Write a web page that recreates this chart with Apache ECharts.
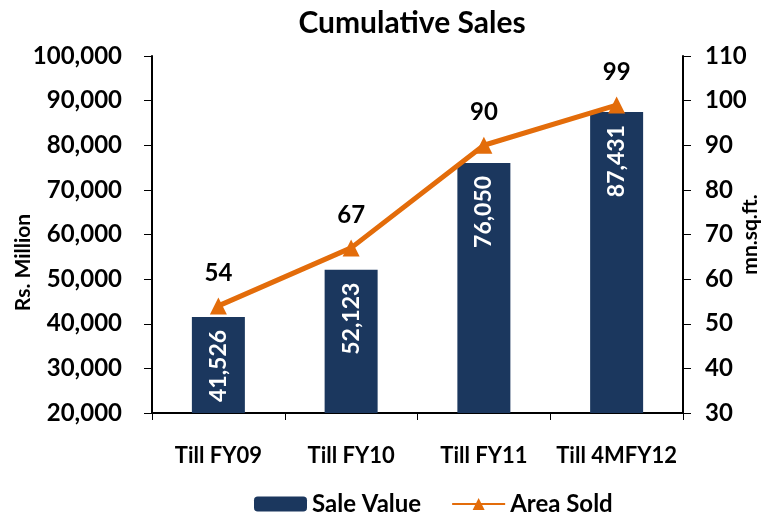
<!DOCTYPE html>
<html lang="en" style="height: 100%">
<head>
  <meta charset="utf-8">
  <title>Cumulative Sales</title>
</head>
<body style="height: 100%; margin: 0">
  <div id="container" style="width: 778px;height: 515px"></div>

  <script type="text/javascript" src="https://cdn.jsdelivr.net/npm/echarts@6/dist/echarts.min.js"></script>
  <script type="text/javascript">
    const categories = ['Till FY09', 'Till FY10', 'Till FY11', 'Till 4MFY12'];
    const saleValue = [41526, 52123, 76050, 87431];
    const areaSold = [54, 67, 90, 99];

    var dom = document.getElementById('container');
    var myChart = echarts.init(dom, null, { renderer: 'canvas' });

    var font = 'Lato';
    var option = {
      animation: false,
      textStyle: { fontFamily: font, fontWeight: 'bold', color: '#000' },
      title: {
        text: 'Cumulative Sales',
        left: 407,
        textAlign: 'center',
        top: 3,
        textStyle: { fontFamily: font, fontSize: 30, fontWeight: 'bold', color: '#000' }
      },
      legend: {
        top: 487,
        left: 249,
        itemWidth: 53,
        itemHeight: 15,
        itemGap: 30,
        textStyle: { fontFamily: font, fontSize: 24, fontWeight: 'bold', color: '#000' },
        data: ['Sale Value', 'Area Sold']
      },
      grid: { left: 152, right: 95, top: 56, bottom: 102, outerBoundsMode: 'none' },
      xAxis: {
        type: 'category',
        data: categories,
        axisLine: { lineStyle: { color: '#000', width: 2 } },
        axisTick: { show: true, length: 7, lineStyle: { color: '#000' } },
        axisLabel: { interval: 0, margin: 32, fontSize: 22, fontWeight: 'bold', color: '#000', fontFamily: font }
      },
      yAxis: [
        {
          type: 'value',
          name: 'Rs. Million',
          nameLocation: 'middle',
          nameGap: 118,
          nameMoveOverlap: false,
          nameTextStyle: { fontSize: 21, fontWeight: 'bold', color: '#000', fontFamily: font, padding: [0, 56, 0, 0] },
          min: 20000,
          max: 100000,
          interval: 10000,
          axisLine: { show: true, lineStyle: { color: '#000', width: 2 } },
          axisTick: { show: true, length: 8, lineStyle: { color: '#000' } },
          splitLine: { show: false },
          axisLabel: {
            margin: 30, fontSize: 24, fontWeight: 'bold', color: '#000', fontFamily: font,
            formatter: function (v) { return v.toLocaleString('en-US'); }
          }
        },
        {
          type: 'value',
          name: 'mn.sq.ft.',
          nameLocation: 'middle',
          nameGap: 57,
          nameRotate: 90,
          nameMoveOverlap: false,
          nameTextStyle: { fontSize: 21, fontWeight: 'bold', color: '#000', fontFamily: font },
          min: 30,
          max: 110,
          interval: 10,
          axisLine: { show: true, lineStyle: { color: '#000', width: 2 } },
          axisTick: { show: true, length: 8, lineStyle: { color: '#000' } },
          splitLine: { show: false },
          axisLabel: { margin: 22, fontSize: 24, fontWeight: 'bold', color: '#000', fontFamily: font }
        }
      ],
      series: [
        {
          name: 'Sale Value',
          type: 'bar',
          data: saleValue,
          barWidth: 53,
          itemStyle: { color: '#1B375E' },
          label: {
            show: true,
            position: 'insideTop',
            rotate: 90,
            align: 'right',
            verticalAlign: 'middle',
            distance: 13,
            fontSize: 23,
            fontWeight: 'bold',
            color: '#fff',
            fontFamily: font,
            formatter: function (p) { return p.value.toLocaleString('en-US'); }
          }
        },
        {
          name: 'Area Sold',
          type: 'line',
          yAxisIndex: 1,
          data: areaSold,
          symbol: 'triangle',
          symbolSize: 17,
          lineStyle: { color: '#E36C0A', width: 5 },
          itemStyle: { color: '#E36C0A' },
          label: {
            show: true,
            position: 'top',
            distance: 12,
            fontSize: 24,
            fontWeight: 'bold',
            color: '#000',
            fontFamily: font
          }
        }
      ]
    };

    myChart.setOption(option);
    window.addEventListener('resize', myChart.resize);
  </script>
</body>
</html>
